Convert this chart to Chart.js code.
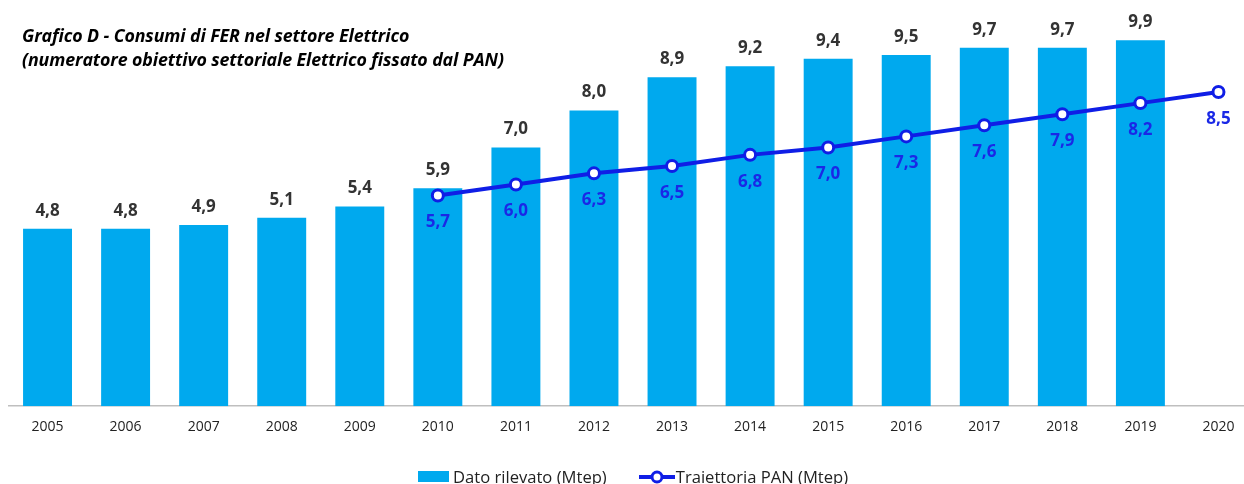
<!DOCTYPE html>
<html>
<head>
<meta charset="utf-8">
<script src="https://cdn.jsdelivr.net/npm/chart.js@4"></script>
<style>
  html, body { margin: 0; padding: 0; background: #fff; overflow: hidden; width: 1244px; height: 484px; }
  #wrap { position: relative; width: 1266px; height: 484px; }
  #title { position: absolute; left: 22px; top: 23px; font-family: "Open Sans", sans-serif; font-style: italic; font-weight: bold; font-size: 17.8px; line-height: 24px; color: #000; white-space: nowrap; z-index: 2; letter-spacing: -0.1px; }
  #legend { position: absolute; top: 465px; left: 418px; font-family: "Open Sans", sans-serif; font-size: 16.6px; color: #222; white-space: nowrap; display: flex; align-items: center; }
  .sw { display: inline-block; width: 31px; height: 11px; background: #00A9EE; margin-right: 4px; }
  .lg { display: inline-flex; align-items: center; }
  canvas { position: absolute; left: 0; top: 0; }
</style>
</head>
<body>
<div id="wrap">
  <div id="title">Grafico D - Consumi di FER nel settore Elettrico<br>(numeratore obiettivo settoriale Elettrico fissato dal PAN)</div>
  <canvas id="c" width="1266" height="484"></canvas>
  <div id="legend">
    <span class="lg"><span class="sw"></span>Dato rilevato (Mtep)</span>
    <span class="lg" style="margin-left:32px;"><svg width="36" height="14" viewBox="0 0 36 14" style="margin-right:1px"><line x1="0" y1="7" x2="36" y2="7" stroke="#0f1ee6" stroke-width="4"/><circle cx="18" cy="7" r="5" fill="#fff" stroke="#0f1ee6" stroke-width="3"/></svg>Traiettoria PAN (Mtep)</span>
  </div>
</div>
<script>
const years = ["2005","2006","2007","2008","2009","2010","2011","2012","2013","2014","2015","2016","2017","2018","2019","2020"];
const datoRilevato = [4.8, 4.8, 4.9, 5.1, 5.4, 5.9, 7.0, 8.0, 8.9, 9.2, 9.4, 9.5, 9.7, 9.7, 9.9, null];
const traiettoriaPAN = [null, null, null, null, null, 5.7, 6.0, 6.3, 6.5, 6.8, 7.0, 7.3, 7.6, 7.9, 8.2, 8.5];

const fmt = v => v.toFixed(1).replace('.', ',');

const labelPlugin = {
  id: 'valueLabels',
  afterDatasetsDraw(chart) {
    const ctx = chart.ctx;
    ctx.save();
    ctx.textAlign = 'center';
    ctx.textBaseline = 'middle';
    ctx.font = 'bold 17px "Open Sans", sans-serif';
    const barMeta = chart.getDatasetMeta(0);
    barMeta.data.forEach((el, i) => {
      const v = datoRilevato[i];
      if (v == null) return;
      ctx.fillStyle = '#333333';
      ctx.fillText(fmt(v), el.x, el.y - 18);
    });
    const lineMeta = chart.getDatasetMeta(1);
    lineMeta.data.forEach((el, i) => {
      const v = traiettoriaPAN[i];
      if (v == null) return;
      ctx.fillStyle = '#1a28e6';
      ctx.fillText(fmt(v), el.x, el.y + 27);
    });
    ctx.restore();
  }
};

new Chart(document.getElementById('c'), {
  data: {
    labels: years,
    datasets: [
      {
        type: 'bar',
        label: 'Dato rilevato (Mtep)',
        data: datoRilevato,
        backgroundColor: '#00A9EE',
        barPercentage: 0.627,
        categoryPercentage: 1.0,
        order: 1
      },
      {
        type: 'line',
        label: 'Traiettoria PAN (Mtep)',
        data: traiettoriaPAN,
        borderColor: '#0f1ee6',
        borderWidth: 4,
        tension: 0,
        pointRadius: 5.5,
        pointBorderWidth: 3,
        pointBackgroundColor: '#ffffff',
        pointBorderColor: '#0f1ee6',
        spanGaps: false,
        order: 0
      }
    ]
  },
  options: {
    responsive: false,
    animation: false,
    layout: { padding: { left: 7.4, right: 8, top: 0, bottom: 45 } },
    plugins: { legend: { display: false }, tooltip: { enabled: false }, title: { display: false } },
    scales: {
      x: {
        grid: { display: false },
        border: { display: true, color: '#bfbfbf', width: 1.5 },
        ticks: { color: '#222', font: { family: '"Open Sans", sans-serif', size: 14 }, padding: 4, maxRotation: 0 }
      },
      y: {
        display: false,
        min: 0,
        max: 10.76
      }
    }
  },
  plugins: [labelPlugin]
});
</script>
</body>
</html>
